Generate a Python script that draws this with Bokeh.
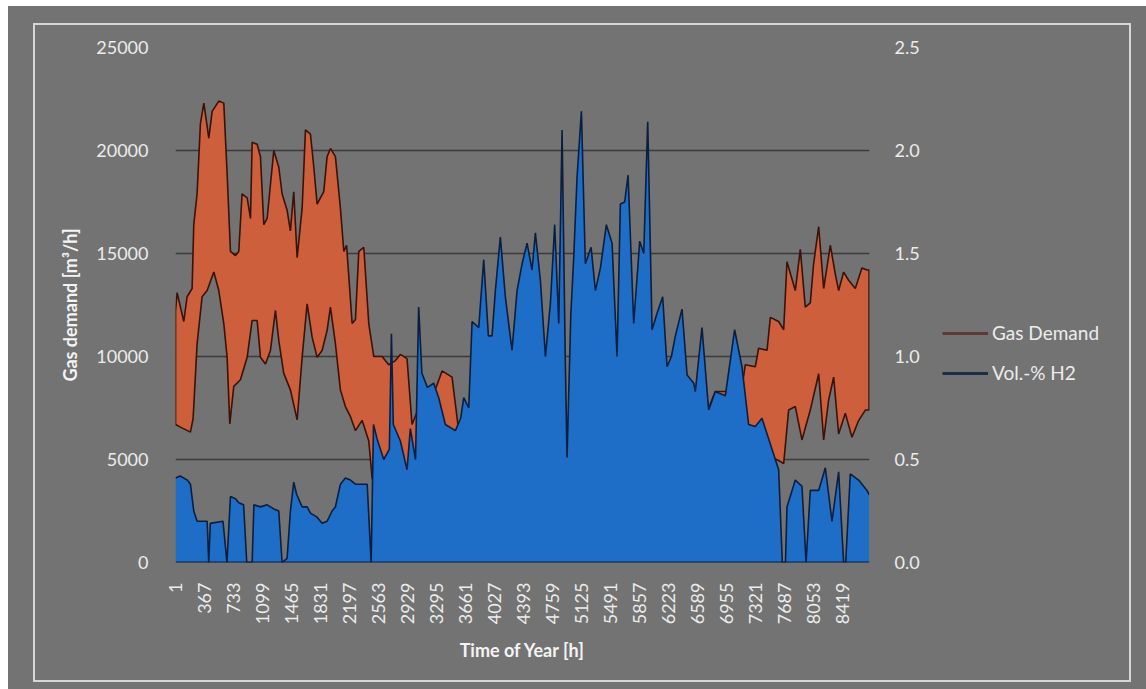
import math
from bokeh.plotting import figure
from bokeh.layouts import row
from bokeh.models import (Range1d, LinearAxis, FixedTicker, NumeralTickFormatter,
                          Legend, LegendItem)
from bokeh.embed import file_html
from bokeh.resources import INLINE

# ---------------- data ----------------
x_ticks = [1, 367, 733, 1099, 1465, 1831, 2197, 2563, 2929, 3295, 3661, 4027,
           4393, 4759, 5125, 5491, 5857, 6223, 6589, 6955, 7321, 7687, 8053, 8419]
left_ticks = [0, 5000, 10000, 15000, 20000, 25000]
right_ticks = [0.0, 0.5, 1.0, 1.5, 2.0, 2.5]
series_names = ["Gas Demand", "Vol.-% H2"]

# Gas demand: upper envelope of the hourly (daily oscillating) series
gas_up_h = [1, 21, 105, 147, 210, 231, 273, 315, 358, 421,
            463, 547, 610, 652, 694, 757, 799, 841, 905, 947,
            968, 1031, 1073, 1115, 1157, 1241, 1304, 1346, 1409, 1451,
            1493, 1536, 1599, 1641, 1704, 1746, 1788, 1872, 1914, 1956,
            2019, 2082, 2125, 2160, 2230, 2272, 2314, 2377, 2440, 2503,
            2608, 2692, 2776, 2839, 2923, 2986, 3070, 3180, 3290, 3365,
            3491, 3575, 3650, 3750, 3900, 4200, 4800, 5400, 6000, 6150,
            6350, 6460, 6562, 6646, 6730, 6814, 6941, 6983, 7151, 7193,
            7319, 7361, 7467, 7509, 7614, 7677, 7719, 7824, 7887, 7950,
            8013, 8055, 8119, 8182, 8266, 8329, 8371, 8434, 8497, 8581,
            8665, 8729, 8755]
gas_up_v = [12200, 13100, 11700, 12900, 13300, 16400, 17900, 21300, 22300, 20600,
            21900, 22400, 22300, 18900, 15100, 14900, 15100, 17900, 17700, 16700,
            20400, 20300, 19700, 16400, 16700, 20000, 19200, 17900, 17100, 16100,
            18000, 14800, 17200, 21000, 20800, 19200, 17400, 18000, 19700, 20100,
            19700, 17200, 15100, 15400, 11600, 11800, 15100, 15300, 11600, 10000,
            10000, 9600, 9800, 10100, 9900, 6700, 7500, 8000, 8500, 9300,
            9000, 6400, 5500, 4000, 3200, 2800, 2600, 2600, 2700, 3000,
            6500, 8700, 8500, 7600, 7500, 8300, 8300, 8200, 8500, 9600,
            9500, 10400, 10300, 11900, 11700, 11300, 14600, 13200, 15200, 12400,
            12600, 14500, 16300, 13300, 15400, 14000, 13200, 14100, 13700, 13300,
            14300, 14200, 14200]

# Gas demand: lower envelope
gas_lo_h = [1, 63, 189, 223, 273, 336, 400, 484, 547, 610,
            652, 686, 736, 820, 905, 968, 1031, 1073, 1136, 1199,
            1262, 1304, 1367, 1451, 1536, 1599, 1662, 1725, 1788, 1851,
            1914, 1956, 2019, 2082, 2145, 2209, 2272, 2356, 2440, 2482,
            2566, 2900, 3200, 3500, 3700, 4000, 4600, 5200, 5800, 6300,
            6500, 6800, 7200, 7530, 7614, 7677, 7740, 7824, 7908, 8013,
            8119, 8182, 8245, 8308, 8371, 8455, 8539, 8623, 8708, 8755]
gas_lo_v = [6700, 6570, 6330, 7000, 10600, 12900, 13200, 14100, 13200, 11600,
            9960, 6730, 8550, 8870, 9960, 11750, 11750, 9960, 9640, 10290,
            12240, 10780, 9180, 8380, 6920, 9960, 12560, 10940, 9960, 10290,
            11260, 12400, 10620, 8380, 7570, 7080, 6400, 6900, 5900, 4100,
            3200, 2500, 2500, 2300, 2000, 1600, 1500, 1500, 1500, 1600,
            2500, 4000, 4500, 5100, 4950, 4800, 7400, 7570, 5950, 7400,
            9160, 5950, 7890, 9000, 6240, 7250, 6080, 6890, 7400, 7400]

# Vol.-% H2: upper envelope (series falls to 0 each night)
h2_h = [1, 60, 150, 189, 231, 273, 400, 420, 440, 600,
        650, 694, 757, 800, 860, 900, 968, 990, 1073, 1157,
        1241, 1304, 1346, 1409, 1451, 1493, 1530, 1599, 1662, 1704,
        1788, 1851, 1914, 1977, 2019, 2082, 2145, 2209, 2272, 2420,
        2470, 2500, 2545, 2629, 2700, 2726, 2750, 2839, 2923, 2965,
        3030, 3070, 3110, 3180, 3260, 3323, 3407, 3533, 3600, 3639,
        3702, 3744, 3828, 3891, 3950, 3996, 4038, 4101, 4164, 4248,
        4312, 4375, 4438, 4501, 4543, 4606, 4670, 4733, 4787, 4838,
        4880, 4920, 4943, 4990, 5027, 5069, 5124, 5174, 5246, 5301,
        5364, 5439, 5511, 5574, 5616, 5670, 5713, 5784, 5860, 5911,
        5961, 6016, 6079, 6150, 6205, 6260, 6310, 6394, 6458, 6542,
        6562, 6646, 6730, 6814, 6941, 7058, 7151, 7235, 7319, 7403,
        7488, 7614, 7660, 7700, 7719, 7824, 7908, 7960, 8013, 8119,
        8203, 8287, 8371, 8434, 8460, 8518, 8623, 8729, 8755]
h2_v = [0.41, 0.42, 0.40, 0.38, 0.25, 0.20, 0.20, 0.0, 0.19, 0.20,
        0.0, 0.32, 0.31, 0.29, 0.28, 0.0, 0.0, 0.28, 0.27, 0.28,
        0.26, 0.25, 0.0, 0.02, 0.25, 0.39, 0.33, 0.27, 0.27, 0.24,
        0.22, 0.19, 0.20, 0.25, 0.27, 0.38, 0.41, 0.40, 0.38, 0.38,
        0.0, 0.67, 0.60, 0.50, 0.55, 1.11, 0.67, 0.59, 0.45, 0.65,
        0.50, 1.24, 0.92, 0.85, 0.87, 0.80, 0.67, 0.64, 0.70, 0.80,
        0.75, 1.17, 1.14, 1.47, 1.10, 1.10, 1.32, 1.58, 1.29, 1.03,
        1.32, 1.45, 1.55, 1.42, 1.60, 1.37, 1.00, 1.26, 1.64, 1.16,
        2.10, 1.00, 0.51, 1.20, 1.48, 1.87, 2.19, 1.45, 1.53, 1.32,
        1.43, 1.64, 1.55, 1.00, 1.74, 1.75, 1.88, 1.16, 1.56, 1.50,
        2.14, 1.13, 1.21, 1.29, 0.95, 1.00, 1.10, 1.23, 0.91, 0.87,
        0.83, 1.14, 0.74, 0.83, 0.81, 1.13, 0.95, 0.67, 0.66, 0.70,
        0.60, 0.45, 0.0, 0.0, 0.27, 0.40, 0.37, 0.0, 0.35, 0.35,
        0.46, 0.20, 0.44, 0.0, 0.0, 0.43, 0.40, 0.35, 0.33]

# ---------------- styling ----------------
GRID = "#3a3a3a"
TXT = "#ececec"
FONT = "Lato"
GAS_FILL = "#cd5f3c"
GAS_EDGE = "#3a1208"
H2_FILL = "#1e6ec8"
H2_EDGE = "#0a1e40"

p = figure(frame_width=694, frame_height=515, output_backend="svg", toolbar_location=None,
           x_range=Range1d(0.5, 8760.5), y_range=Range1d(0, 25000),
           min_border_left=175, min_border_right=60, min_border_top=47,
           min_border_bottom=121)
p.background_fill_color = None
p.border_fill_color = None
p.outline_line_color = None
p.extra_y_ranges = {"h2": Range1d(0, 2.5)}

# Gas demand band (upper envelope forward, lower envelope back)
p.patch(gas_up_h + gas_lo_h[::-1], gas_up_v + gas_lo_v[::-1],
        fill_color=GAS_FILL, line_color=GAS_EDGE, line_width=1.6)

# H2 area from zero up to its envelope
p.varea(x=h2_h, y1=0, y2=h2_v, fill_color=H2_FILL, y_range_name="h2")
p.line(h2_h, h2_v, line_color=H2_EDGE, line_width=1.6, y_range_name="h2")
p.line([h2_h[0], h2_h[-1]], [0, 0], line_color=H2_EDGE, line_width=2, y_range_name="h2")

# axes
xa = p.xaxis[0]
xa.ticker = FixedTicker(ticks=x_ticks)
xa.major_label_orientation = math.pi / 2
xa.axis_label = "Time of Year [h]"
xa.major_label_standoff = 14
xa.axis_label_standoff = 12

ya = p.yaxis[0]
ya.ticker = FixedTicker(ticks=left_ticks)
ya.axis_label = "Gas demand [m³/h]"
ya.major_label_standoff = 21
ya.axis_label_standoff = 12

ra = LinearAxis(y_range_name="h2", ticker=FixedTicker(ticks=right_ticks),
                formatter=NumeralTickFormatter(format="0.0"))
p.add_layout(ra, "right")
ra.major_label_standoff = 19

for ax in (xa, ya, ra):
    ax.axis_line_color = None
    ax.major_tick_line_color = None
    ax.minor_tick_line_color = None
    ax.major_label_text_color = TXT
    ax.major_label_text_font = FONT
    ax.major_label_text_font_size = "18px"
    ax.axis_label_text_color = "#f4f4f4"
    ax.axis_label_text_font = FONT
    ax.axis_label_text_font_size = "18px"
    ax.axis_label_text_font_style = "bold"

p.xgrid.grid_line_color = None
p.ygrid.grid_line_color = GRID
p.ygrid.grid_line_width = 1.5

# ---------------- legend panel (separate figure to the right) ----------------
lg = figure(width=200, height=683, output_backend="svg", toolbar_location=None,
            min_border=0, x_range=Range1d(0, 1), y_range=Range1d(0, 1))
lg.background_fill_color = None
lg.border_fill_color = None
lg.outline_line_color = None
lg.axis.visible = False
lg.grid.visible = False
nan = float("nan")
r1 = lg.line(x=[nan], y=[nan], line_color="#5c3b34", line_width=3)
r2 = lg.line(x=[nan], y=[nan], line_color="#1d2d45", line_width=3)
legend = Legend(items=[LegendItem(label=series_names[0], renderers=[r1]),
                       LegendItem(label=series_names[1], renderers=[r2])],
                location=(13, 178), background_fill_alpha=0, border_line_color=None,
                glyph_width=46, glyph_height=20, label_height=20, spacing=17,
                padding=0, margin=0, label_standoff=4,
                label_text_color=TXT, label_text_font=FONT, label_text_font_size="19px")
lg.add_layout(legend)

layout = row(p, lg, spacing=0)

html = file_html(layout, INLINE)
extra = ('<div style="position:absolute;left:8px;top:6px;width:1138px;height:683px;'
         'background:#737373;z-index:-1;"></div>'
         '<div style="position:absolute;left:33px;top:23px;width:1098px;height:659px;'
         'box-sizing:border-box;border:2px solid #d6d6d6;pointer-events:none;"></div>')
html = html.replace("</body>", extra + "</body>")
open("out.html", "w").write(html)
